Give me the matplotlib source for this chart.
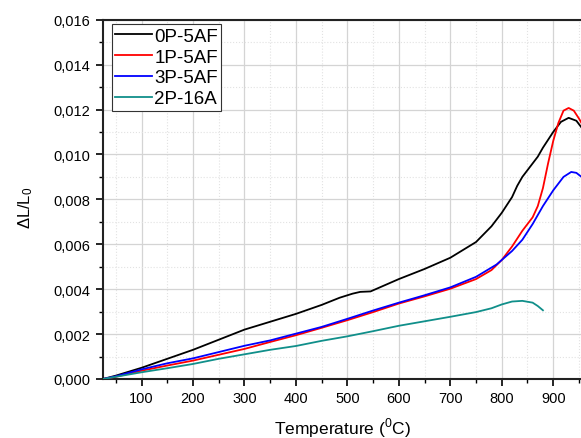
import matplotlib
matplotlib.use("Agg")
import matplotlib.pyplot as plt
from matplotlib.ticker import MultipleLocator, FuncFormatter

plt.rcParams['font.family'] = ['Liberation Sans', 'DejaVu Sans']

# ---- data ----
t_0p = [25, 50, 100, 150, 200, 250, 300, 350, 400, 450, 485, 510, 525, 545, 575, 600,
        650, 700, 750, 780, 800, 820, 830, 840, 850, 860, 870, 880, 890, 900, 915, 930,
        945, 955]
y_0p = [0, 0.00015, 0.0005, 0.0009, 0.0013, 0.00175, 0.0022, 0.00255, 0.0029, 0.0033,
        0.00362, 0.0038, 0.00388, 0.0039, 0.0042, 0.00445, 0.0049, 0.0054, 0.0061, 0.0068,
        0.0074, 0.0081, 0.0086, 0.0090, 0.0093, 0.0096, 0.0099, 0.0103, 0.01065, 0.0110,
        0.01145, 0.01163, 0.0115, 0.0112]

t_1p = [25, 50, 100, 150, 200, 250, 300, 350, 400, 450, 500, 550, 600, 650, 700, 750,
        780, 800, 820, 840, 860, 870, 880, 890, 900, 910, 920, 930, 940, 950, 955]
y_1p = [0, 0.0001, 0.00037, 0.0006, 0.00082, 0.00108, 0.00134, 0.00165, 0.00195, 0.00228,
        0.00262, 0.00298, 0.00336, 0.00368, 0.00402, 0.00445, 0.00485, 0.0053, 0.0059,
        0.0066, 0.0072, 0.0077, 0.0085, 0.0096, 0.0106, 0.0114, 0.01195, 0.01207, 0.01195,
        0.0116, 0.0114]

t_3p = [25, 50, 100, 150, 200, 250, 300, 350, 400, 450, 500, 550, 600, 650, 700, 750,
        790, 820, 840, 860, 880, 900, 920, 935, 945, 955]
y_3p = [0, 0.00012, 0.00043, 0.0007, 0.00092, 0.0012, 0.00148, 0.00172, 0.00202, 0.00232,
        0.00268, 0.00305, 0.0034, 0.00373, 0.00408, 0.00455, 0.0051, 0.0057, 0.0062, 0.0069,
        0.0077, 0.0084, 0.0090, 0.00922, 0.00918, 0.009]

t_2p = [25, 50, 100, 150, 200, 250, 300, 350, 400, 450, 500, 550, 600, 650, 700, 750,
        780, 800, 820, 840, 860, 870, 880]
y_2p = [0, 0.0001, 0.0003, 0.00048, 0.00067, 0.0009, 0.0011, 0.0013, 0.00147, 0.0017,
        0.0019, 0.00213, 0.00237, 0.00257, 0.00277, 0.00298, 0.00315, 0.00332, 0.00345,
        0.00348, 0.0034, 0.00325, 0.00306]

labels = ['0P-5AF', '1P-5AF', '3P-5AF', '2P-16A']
colors = ['#000000', '#ff0000', '#0000ff', '#108f8a']

# ---- figure ----
fig = plt.figure(figsize=(5.81, 4.39), dpi=100)
ax = fig.add_axes([103/581, 59/439, 478/581, 359.3/439])

series = [(t_0p, y_0p), (t_1p, y_1p), (t_3p, y_3p), (t_2p, y_2p)]
for (t, y), lab, c in zip(series, labels, colors):
    ax.plot(t, y, color=c, lw=1.3, label=lab, zorder=3)

ax.set_xlim(25, 954)
ax.set_ylim(0, 0.016)

ax.xaxis.set_major_locator(MultipleLocator(100))
ax.xaxis.set_minor_locator(MultipleLocator(50))
ax.yaxis.set_major_locator(MultipleLocator(0.002))
ax.yaxis.set_minor_locator(MultipleLocator(0.001))
ax.yaxis.set_major_formatter(FuncFormatter(lambda v, p: f"{v:.3f}".replace('.', ',')))

ax.grid(which='major', color='#d4d4d4', lw=0.9, ls='-', zorder=0)
ax.grid(which='minor', color='#e2e2e2', lw=0.8, ls=':', zorder=0)
ax.set_axisbelow(True)

ax.tick_params(which='major', direction='out', length=5, width=1.2, labelsize=10.5,
               colors='black', pad=4)
ax.tick_params(which='minor', direction='out', length=3, width=1.0)
ax.tick_params(axis='x', which='both', top=False)
ax.tick_params(axis='y', which='both', right=False)

for s in ['left', 'bottom', 'top']:
    ax.spines[s].set_linewidth(1.5)
    ax.spines[s].set_color('#222222')
ax.spines['right'].set_visible(False)

ax.set_xlabel('Temperature ($^{\\mathregular{0}}$C)', fontsize=12.5)
ax.xaxis.set_label_coords(0.5, -0.102)
ax.set_ylabel('$\\mathregular{\\Delta L/L_0}$', fontsize=12)
ax.yaxis.set_label_coords(-0.143, 0.48)

leg = ax.legend(loc='upper left', bbox_to_anchor=(9/478, 1 - 4.5/359.3), fontsize=13.5,
                frameon=True, fancybox=False, framealpha=1, edgecolor='#333333',
                borderpad=0.18, labelspacing=0.2, handlelength=1.95, handletextpad=0.12,
                borderaxespad=0)
leg.get_frame().set_linewidth(0.8)

fig.savefig('out.png', dpi=100)
